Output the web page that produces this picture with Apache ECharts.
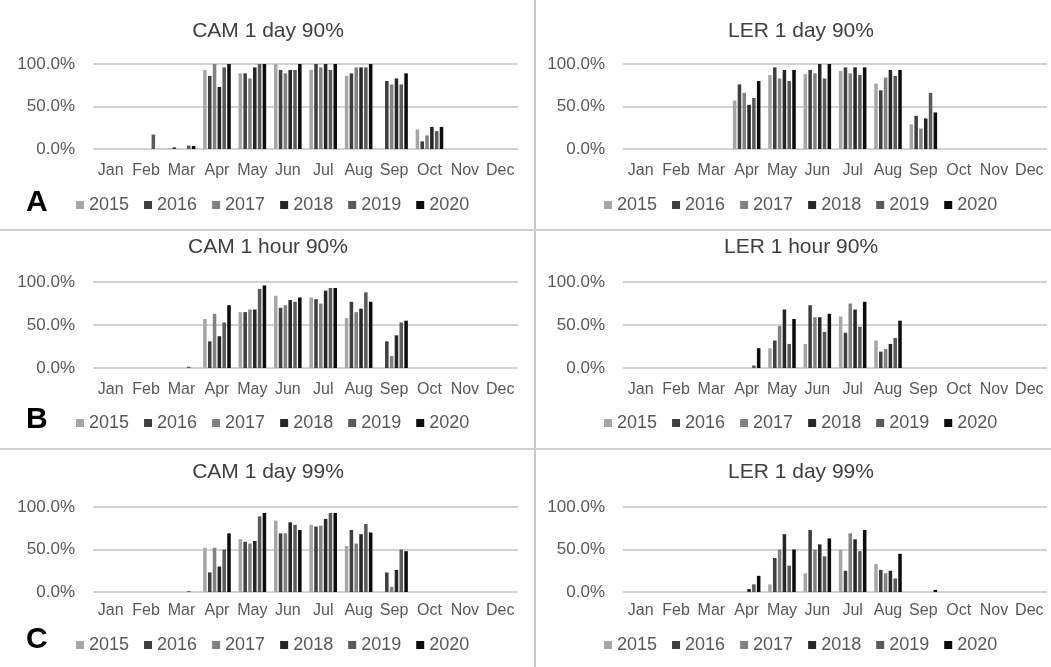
<!DOCTYPE html>
<html>
<head>
<meta charset="utf-8">
<script src="https://cdn.jsdelivr.net/npm/echarts@6/dist/echarts.min.js"></script>
<style>
  html, body { margin: 0; padding: 0; background: #ffffff; }
  #chart { width: 1051px; height: 667px; }
</style>
</head>
<body>
<div id="chart"></div>
<script>
// Categories and series names
const MONTHS = ['Jan', 'Feb', 'Mar', 'Apr', 'May', 'Jun', 'Jul', 'Aug', 'Sep', 'Oct', 'Nov', 'Dec'];
const YEARS = ['2015', '2016', '2017', '2018', '2019', '2020'];
// Value axis ticks (percent)
const Y_TICKS = [0, 50, 100];

// Monthly share (%), one row per year 2015..2020
const CAM_DAY_90 = [
  [0, 0, 1, 93, 89, 100, 93, 86, 0, 23, 0, 0],
  [0, 0, 2, 86, 89, 93, 100, 89, 80, 9, 0, 0],
  [0, 0, 0, 100, 83, 89, 96, 96, 76, 16, 0, 0],
  [0, 0, 0, 73, 96, 93, 100, 96, 83, 26, 0, 0],
  [0, 17, 4, 96, 100, 93, 93, 96, 76, 21, 0, 0],
  [0, 0, 3.5, 100, 100, 100, 100, 100, 89, 26, 0, 0]
];
const LER_DAY_90 = [
  [0, 0, 0, 57, 87, 88, 92, 77, 29, 0, 0, 0],
  [0, 0, 0, 76, 96, 93, 96, 69, 39, 0, 0, 0],
  [0, 0, 0, 66, 83, 89, 89, 84, 24, 0, 0, 0],
  [0, 0, 0, 52, 93, 100, 96, 93, 36, 0, 0, 0],
  [0, 0, 0, 60, 80, 83, 87, 86, 66, 0, 0, 0],
  [0, 0, 0, 80, 93, 100, 96, 93, 43, 0, 0, 0]
];
const CAM_HOUR_90 = [
  [0, 0, 0, 57, 65, 84, 82, 58, 0, 0, 0, 0],
  [0, 0, 0, 31, 65, 70, 80, 77, 31, 0, 0, 0],
  [0, 0, 0, 63, 68, 73, 75, 65, 14, 0, 0, 0],
  [0, 0, 0, 37, 68, 79, 90, 69, 38, 0, 0, 0],
  [0, 0, 1.5, 53, 92, 77, 93, 88, 53, 0, 0, 0],
  [0, 0, 0, 73, 96, 82, 93, 77, 55, 0, 0, 0]
];
const LER_HOUR_90 = [
  [0, 0, 0, 0, 23, 28, 60, 32, 0, 0, 0, 0],
  [0, 0, 0, 0, 32, 73, 41, 19, 0, 0, 0, 0],
  [0, 0, 0, 0, 49, 59, 75, 22, 0, 0, 0, 0],
  [0, 0, 0, 0, 68, 59, 68, 28, 0, 0, 0, 0],
  [0, 0, 0, 3, 28, 42, 48, 35, 0, 0, 0, 0],
  [0, 0, 0, 23, 57, 63, 77, 55, 0, 0, 0, 0]
];
const CAM_DAY_99 = [
  [0, 0, 0, 52, 62, 84, 79, 54, 0, 0, 0, 0],
  [0, 0, 0, 23, 59, 69, 77, 73, 23, 0, 0, 0],
  [0, 0, 0, 52, 57, 69, 78, 57, 6, 0, 0, 0],
  [0, 0, 0, 30, 60, 82, 86, 68, 26, 0, 0, 0],
  [0, 0, 1, 50, 89, 79, 93, 80, 50, 0, 0, 0],
  [0, 0, 0, 69, 93, 73, 93, 70, 48, 0, 0, 0]
];
const LER_DAY_99 = [
  [0, 0, 0, 0, 9, 22, 50, 33, 0, 0, 0, 0],
  [0, 0, 0, 0, 40, 73, 25, 26, 0, 0, 0, 0],
  [0, 0, 0, 0, 50, 50, 69, 22, 0, 0, 0, 0],
  [0, 0, 0, 3.5, 68, 56, 62, 25, 0, 0, 0, 0],
  [0, 0, 0, 9, 31, 42, 48, 16, 0, 0, 0, 0],
  [0, 0, 0, 19, 50, 63, 73, 45, 2.5, 0, 0, 0]
];

const PANEL_TITLES = ['CAM 1 day 90%', 'LER 1 day 90%', 'CAM 1 hour 90%', 'LER 1 hour 90%', 'CAM 1 day 99%', 'LER 1 day 99%'];
const PANEL_DATA = [CAM_DAY_90, LER_DAY_90, CAM_HOUR_90, LER_HOUR_90, CAM_DAY_99, LER_DAY_99];
const ROW_LETTERS = ['A', 'B', 'C'];

// Styling and layout
const FONT = '"Liberation Sans", Arial, sans-serif';
const COLORS = ['#a6a6a6', '#3f3f3f', '#828282', '#262626', '#5a5a5a', '#0d0d0d'];
const GRID_LINE = '#c4c4c4';
const LABEL_COLOR = '#595959';

const colLeft = [93, 623];
const colWidth = [425, 424];
const colTitleX = [268, 801];
const colLegendX = [76, 604];
const rowTop = [64, 282, 507];
const rowHeight = [85, 86, 85];
const rowTitleTop = [21, 237, 462];
const rowLegendTop = [196, 414, 636];
const rowLabelMargin = [14, 14, 11];
const rowLetterY = [204, 421, 641];

const grids = [], xAxes = [], yAxes = [], titles = [], legends = [], series = [];

PANEL_TITLES.forEach((name, p) => {
  const row = Math.floor(p / 2), col = p % 2;
  grids.push({ left: colLeft[col], top: rowTop[row], width: colWidth[col], height: rowHeight[row], containLabel: false });
  xAxes.push({
    type: 'category', gridIndex: p, data: MONTHS,
    axisLine: { show: false }, axisTick: { show: false },
    axisLabel: { color: LABEL_COLOR, fontSize: 16, fontFamily: FONT, margin: rowLabelMargin[row], interval: 0 }
  });
  yAxes.push({
    type: 'value', gridIndex: p, min: Y_TICKS[0], max: Y_TICKS[Y_TICKS.length - 1], interval: Y_TICKS[1] - Y_TICKS[0],
    axisLine: { show: false }, axisTick: { show: false },
    splitLine: { lineStyle: { color: GRID_LINE, width: 1.5 } },
    axisLabel: { color: LABEL_COLOR, fontSize: 17, fontFamily: FONT, margin: 18, formatter: v => v.toFixed(1) + '%' }
  });
  titles.push({
    text: name, left: colTitleX[col], top: rowTitleTop[row], textAlign: 'center', padding: 0,
    textStyle: { fontSize: 21, fontWeight: 'normal', color: '#404040', fontFamily: FONT }
  });
  legends.push({
    data: YEARS, left: colLegendX[col], top: rowLegendTop[row], padding: 0,
    icon: 'rect', itemWidth: 8, itemHeight: 8, itemGap: 15,
    textStyle: { fontSize: 18, color: LABEL_COLOR, fontFamily: FONT }
  });
  YEARS.forEach((yr, k) => {
    series.push({
      name: yr, type: 'bar', xAxisIndex: p, yAxisIndex: p,
      data: PANEL_DATA[p][k],
      barGap: '36%', barCategoryGap: '22%',
      itemStyle: { color: COLORS[k] },
      animation: false
    });
  });
});

// Panel frame lines and row letters
const graphics = [
  { type: 'line', shape: { x1: 535, y1: 0, x2: 535, y2: 667 }, style: { stroke: '#c8c8c8', lineWidth: 2 } },
  { type: 'line', shape: { x1: 0, y1: 230, x2: 1051, y2: 230 }, style: { stroke: '#d0d0d0', lineWidth: 2 } },
  { type: 'line', shape: { x1: 0, y1: 449, x2: 1051, y2: 449 }, style: { stroke: '#d0d0d0', lineWidth: 2 } }
];
ROW_LETTERS.forEach((ch, r) => {
  graphics.push({
    type: 'text', left: 26, top: rowLetterY[r] - 16,
    style: { text: ch, fontSize: 30, fontWeight: 'bold', fontFamily: FONT, fill: '#000000' }
  });
});

const chart = echarts.init(document.getElementById('chart'), null, { renderer: 'canvas' });
chart.setOption({
  backgroundColor: '#ffffff',
  animation: false,
  title: titles,
  legend: legends,
  grid: grids,
  xAxis: xAxes,
  yAxis: yAxes,
  series: series,
  graphic: graphics
});
</script>
</body>
</html>
